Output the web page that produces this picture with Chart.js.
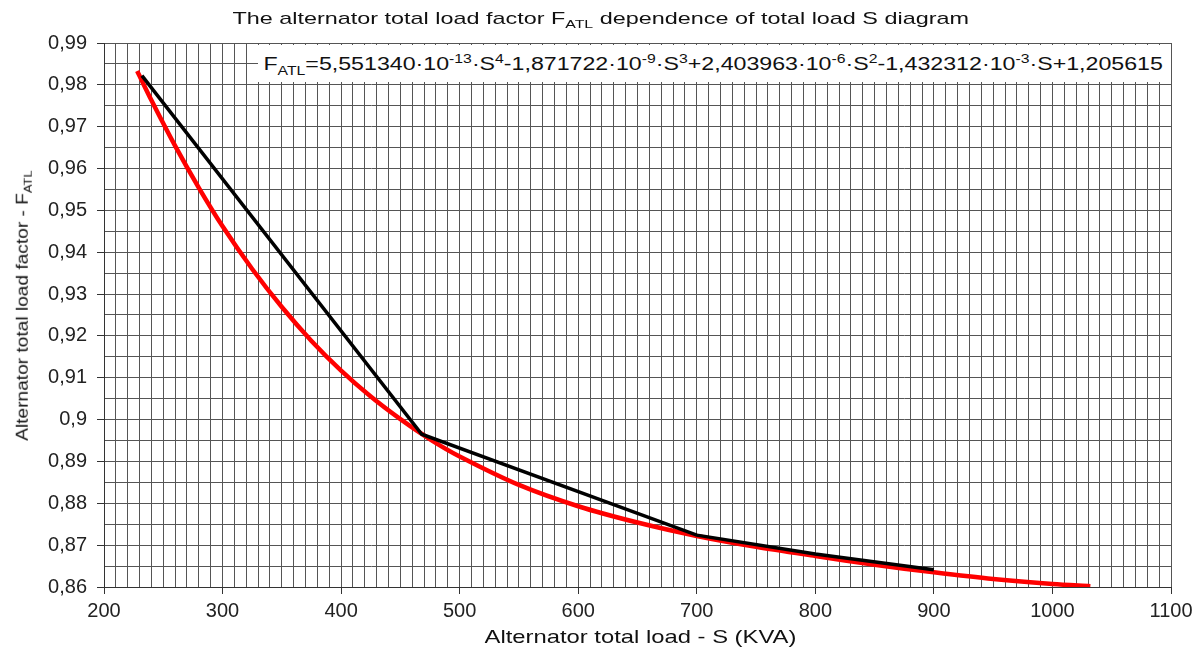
<!DOCTYPE html>
<html><head><meta charset="utf-8">
<script src="https://cdn.jsdelivr.net/npm/chart.js@4"></script>
<style>
html,body{margin:0;padding:0;background:#fff;}
#wrap{position:relative;width:1199px;height:651px;overflow:hidden;font-family:"Liberation Sans",Arial,sans-serif;color:#111;}
canvas{position:absolute;left:0;top:0;}
.t{position:absolute;white-space:nowrap;line-height:1;transform-origin:50% 50%;}
.t sub,.t sup{font-size:0.68em;line-height:0;}
#eqbox{position:absolute;left:258px;top:45px;width:913px;height:37px;background:#fff;}
</style></head>
<body><div id="wrap"><canvas id="c" width="1199" height="651"></canvas>
<div id="eqbox"></div>
<div id="title" class="t">The alternator total load factor F<sub>ATL</sub> dependence of total load S diagram</div>
<div id="eq" class="t">F<sub>ATL</sub>=5,551340·10<sup>-13</sup>·S<sup>4</sup>-1,871722·10<sup>-9</sup>·S<sup>3</sup>+2,403963·10<sup>-6</sup>·S<sup>2</sup>-1,432312·10<sup>-3</sup>·S+1,205615</div>
<div id="xt" class="t">Alternator total load - S (KVA)</div>
<div id="yt" class="t">Alternator total load factor - F<sub>ATL</sub></div>
</div>
<script>
// ---- data ----
const fitLoad = [228,240,260,280,300,325,350,375,400,425,450,475,500,550,600,650,700,750,800,850,900,950,1000,1032];
const fitFactor = [0.9833,0.9763,0.9654,0.9554,0.9462,0.9360,0.9269,0.9188,0.9117,0.9055,0.9001,0.8953,0.8912,0.8844,0.8793,0.8754,0.8722,0.8696,0.8674,0.8653,0.8635,0.8619,0.8607,0.8602];
const measLoad = [232,468,700,800,900];
const measFactor = [0.9822,0.8965,0.8724,0.8679,0.8641];
const xMin = 200, xMax = 1100, xStep = 10;
const yMin = 0.86, yMax = 0.99, yStep = 0.005;

function pts(xs, ys){ return xs.map((x,i)=>({x:x,y:ys[i]})); }

const gridCol = '#555';
const tickFont = { family:'"Liberation Sans", Arial, sans-serif', size:20 };
new Chart(document.getElementById('c'), {
  type: 'scatter',
  data: { datasets: [
    { label:'measured', data: pts(measLoad, measFactor), showLine:true, borderColor:'#000', borderWidth:3.5, pointRadius:0, tension:0 },
    { label:'fit', data: pts(fitLoad, fitFactor), showLine:true, borderColor:'#ff0000', borderWidth:4.5, pointRadius:0, tension:0.3 }
  ]},
  options: {
    responsive:false, animation:false, devicePixelRatio:1,
    layout:{ padding:{ top:43, right:28, left:0, bottom:0 } },
    plugins:{ legend:{display:false}, tooltip:{enabled:false}, title:{display:false} },
    scales:{
      x:{ type:'linear', min:xMin, max:xMax,
        afterFit:(s)=>{ s.height = 64; },
        border:{ display:true, color:'#333', width:1 },
        grid:{ color:gridCol, lineWidth:1, tickLength:7,
          tickColor:(ctx)=> (ctx.tick && Math.round(ctx.tick.value)%100===0) ? '#333' : 'rgba(0,0,0,0)' },
        ticks:{ stepSize:xStep, autoSkip:false, maxRotation:0, minRotation:0, padding:5, color:'#222', font:tickFont,
          callback:(v)=>{ const r=Math.round(v); return r%100===0 ? String(r) : ''; } }
      },
      y:{ type:'linear', min:yMin, max:yMax,
        afterFit:(s)=>{ s.width = 104; },
        border:{ display:true, color:'#333', width:1 },
        grid:{ color:gridCol, lineWidth:1, tickLength:7,
          tickColor:(ctx)=> (ctx.tick && Math.round(ctx.tick.value*1000)%10===0) ? '#333' : 'rgba(0,0,0,0)' },
        ticks:{ stepSize:yStep, autoSkip:false, padding:10, color:'#222', font:tickFont,
          callback:(v)=>{ const k=Math.round(v*1000); return k%10===0 ? (k/1000).toString().replace('.',',') : ''; } }
      }
    }
  }
});

function place(id, cx, cy, targetW, size, rot){
  const el = document.getElementById(id);
  el.style.fontSize = size + 'px';
  const w = el.offsetWidth, h = el.offsetHeight;
  el.style.left = (cx - w/2) + 'px';
  el.style.top = (cy - h/2) + 'px';
  const sx = targetW / w;
  el.style.transform = (rot ? 'rotate(' + rot + 'deg) ' : '') + 'scaleX(' + sx + ')';
}
place('title', 600, 18, 736, 17, 0);
place('eq', 713, 64, 899, 18, 0);
place('xt', 640, 636, 312, 19, 0);
place('yt', 22, 305, 270, 17, -90);
</script>
</body></html>
